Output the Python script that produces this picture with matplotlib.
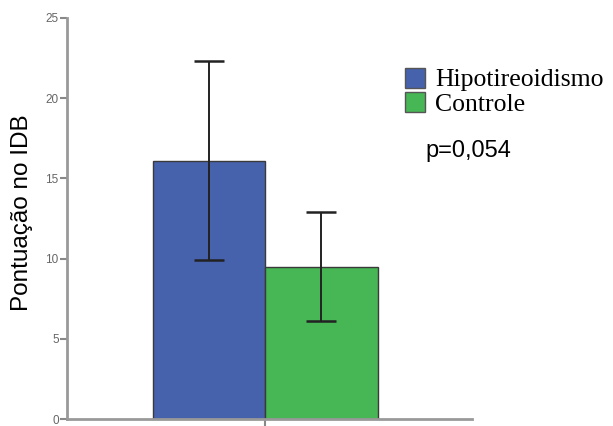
import matplotlib.pyplot as plt
from matplotlib.patches import Rectangle

# Group means and error bar limits
groups = ['Hipotireoidismo', 'Controle']
means = [16.1, 9.5]
err_low = [9.9, 6.1]
err_high = [22.3, 12.9]
colors = ['#4762ad', '#47b654']
p_text = 'p=0,054'

fig = plt.figure(figsize=(6.13, 4.26), dpi=100)
ax = fig.add_axes([67 / 613, 1 - 419 / 426, 405 / 613, 401 / 426])

positions = [-0.5, 0.5]
yerr = [[m - lo for m, lo in zip(means, err_low)],
        [hi - m for m, hi in zip(means, err_high)]]
ax.bar(positions, means, width=1.0, color=colors, edgecolor='#3a3a3a',
       linewidth=1.0, zorder=2)
ax.errorbar(positions, means, yerr=yerr, fmt='none', ecolor='#222222',
            elinewidth=1.4, capsize=10.5, capthick=1.8, zorder=3)

ax.set_xlim(-1.76, 1.84)
ax.set_ylim(0, 25)
ax.set_xticks([0])
ax.set_xticklabels([''])
ax.set_yticks([0, 5, 10, 15, 20, 25])
ax.tick_params(axis='both', colors='#888888', labelcolor='#666666',
               labelsize=8.5, length=5, width=1.5, pad=1)
for lbl in ax.get_yticklabels():
    lbl.set_family('Liberation Sans')
for side in ['top', 'right']:
    ax.spines[side].set_visible(False)
for side in ['left', 'bottom']:
    ax.spines[side].set_color('#999999')
    ax.spines[side].set_linewidth(2)

ax.set_ylabel('Pontuação no IDB', fontsize=17.5, family='Liberation Sans',
              va='center')
ax.yaxis.set_label_coords(-0.1123, 0.515)

# legend drawn by hand so rows sit as tight as in the original
legend_rows = [(68, 86), (92, 111)]
for (top, baseline), c, g in zip(legend_rows, colors, groups):
    fig.patches.append(Rectangle((405 / 613, 1 - (top + 20) / 426), 20 / 613, 20 / 426,
                                 transform=fig.transFigure, facecolor=c,
                                 edgecolor='#555555', linewidth=1.0))
    fig.text(435 / 613, 1 - baseline / 426, g, fontsize=18.5,
             family='Liberation Serif', va='baseline', ha='left')

fig.text(425 / 613, 1 - 157 / 426, p_text, fontsize=17, family='Liberation Sans',
         va='baseline', ha='left')

fig.savefig('out.png', dpi=100)
